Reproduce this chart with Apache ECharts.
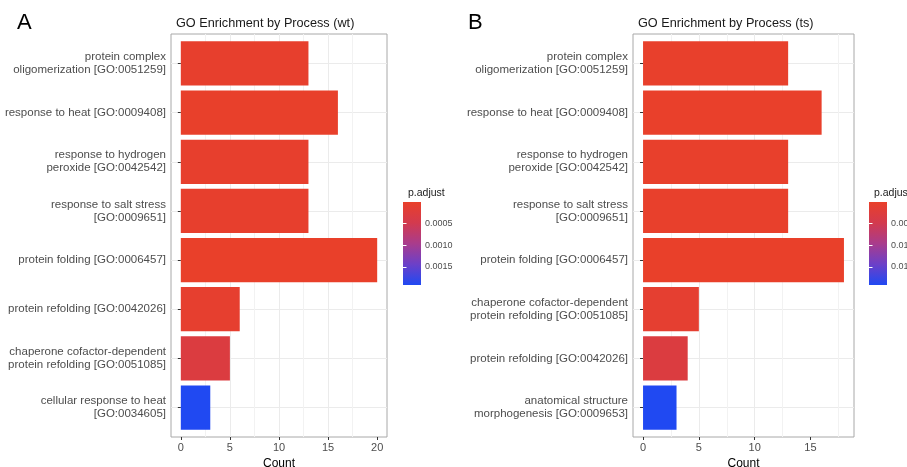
<!DOCTYPE html>
<html>
<head>
<meta charset="utf-8">
<title>GO Enrichment by Process</title>
<script src="https://cdn.jsdelivr.net/npm/echarts@6/dist/echarts.min.js"></script>
<style>
  html, body { margin: 0; padding: 0; background: #ffffff; }
  #chart { width: 907px; height: 467px; }
</style>
</head>
<body>
<div id="chart"></div>
<script>
// ---- Panel A: wild type ----
const wtTerms = [
  'protein complex\noligomerization [GO:0051259]',
  'response to heat [GO:0009408]',
  'response to hydrogen\nperoxide [GO:0042542]',
  'response to salt stress\n[GO:0009651]',
  'protein folding [GO:0006457]',
  'protein refolding [GO:0042026]',
  'chaperone cofactor-dependent\nprotein refolding [GO:0051085]',
  'cellular response to heat\n[GO:0034605]'
];
const wtCounts = [13, 16, 13, 13, 20, 6, 5, 3];
const wtPadj = [4.2e-5, 1.3e-5, 4.2e-5, 4.2e-5, 2.0e-6, 6.8e-5, 3.0e-4, 1.92e-3];
const wtCountTicks = [0, 5, 10, 15, 20];
const wtPadjTicks = [0.0005, 0.0010, 0.0015];

// ---- Panel B: ts mutant ----
const tsTerms = [
  'protein complex\noligomerization [GO:0051259]',
  'response to heat [GO:0009408]',
  'response to hydrogen\nperoxide [GO:0042542]',
  'response to salt stress\n[GO:0009651]',
  'protein folding [GO:0006457]',
  'chaperone cofactor-dependent\nprotein refolding [GO:0051085]',
  'protein refolding [GO:0042026]',
  'anatomical structure\nmorphogenesis [GO:0009653]'
];
const tsCounts = [13, 16, 13, 13, 18, 5, 4, 3];
const tsPadj = [3.1e-4, 1.2e-4, 3.1e-4, 3.1e-4, 2.0e-5, 9.0e-4, 3.0e-3, 1.92e-2];
const tsCountTicks = [0, 5, 10, 15];
const tsPadjTicks = [0.005, 0.010, 0.015];

// low p.adjust = red, high p.adjust = blue
const fillStops = ['#e9402a', '#d33a4e', '#a93c8c', '#6c40c8', '#2049f2'];

const FONT = '"Liberation Sans", Arial, Helvetica, sans-serif';
const AXIS_TEXT = '#4d4d4d';
const GRID_COL = '#ebebeb';

const panels = [
  { terms: wtTerms, counts: wtCounts, padj: wtPadj, countTicks: wtCountTicks, padjTicks: wtPadjTicks,
    digits: 4, letter: 'A', title: 'GO Enrichment by Process (wt)',
    plotLeft: 171, plotWidth: 216, legendLeft: 403, letterLeft: 12 },
  { terms: tsTerms, counts: tsCounts, padj: tsPadj, countTicks: tsCountTicks, padjTicks: tsPadjTicks,
    digits: 3, letter: 'B', title: 'GO Enrichment by Process (ts)',
    plotLeft: 633, plotWidth: 221, legendLeft: 869, letterLeft: 463 }
];

const PLOT_TOP = 34, PLOT_H = 403;
const N = 8;
const unitH = PLOT_H / (N - 1 + 1.2);     // discrete axis padded by 0.6 band on each side
const innerTop = PLOT_TOP + 0.6 * unitH;
const innerH = (N - 1) * unitH;

const option = {
  backgroundColor: '#ffffff',
  animation: false,
  textStyle: { fontFamily: FONT },
  title: [],
  grid: [],
  xAxis: [],
  yAxis: [],
  series: [],
  visualMap: []
};

panels.forEach((p, i) => {
  const maxCount = Math.max(...p.counts);
  const pad = maxCount * 0.05;
  const xMin = -pad, xMax = maxCount + pad;
  const pMin = Math.min(...p.padj), pMax = Math.max(...p.padj);
  const g0 = i * 3;

  option.title.push(
    { text: p.letter, left: p.letterLeft, top: 7,
      textStyle: { fontFamily: FONT, fontSize: 22, fontWeight: 'normal', color: '#000' } },
    { text: p.title, left: p.plotLeft, top: 12,
      textStyle: { fontFamily: FONT, fontSize: 12.7, fontWeight: 'normal', color: '#1a1a1a' } },
    { text: 'p.adjust', left: p.legendLeft, top: 183,
      textStyle: { fontFamily: FONT, fontSize: 10.5, fontWeight: 'normal', color: '#1a1a1a' } }
  );

  // outer panel: border, vertical grid and count axis
  option.grid.push({
    left: p.plotLeft, top: PLOT_TOP, width: p.plotWidth, height: PLOT_H,
    show: true, borderColor: '#a8a8a8', borderWidth: 1, backgroundColor: 'transparent',
    containLabel: false, outerBoundsMode: 'none'
  });
  // inner panel: bars and category axis
  option.grid.push({
    left: p.plotLeft, top: innerTop, width: p.plotWidth, height: innerH,
    containLabel: false, outerBoundsMode: 'none'
  });
  // colour bar
  option.grid.push({
    left: p.legendLeft, top: 202, width: 18, height: 83,
    show: true, borderWidth: 0,
    backgroundColor: {
      type: 'linear', x: 0, y: 0, x2: 0, y2: 1,
      colorStops: fillStops.map((c, k) => ({ offset: k / (fillStops.length - 1), color: c }))
    },
    containLabel: false, outerBoundsMode: 'none'
  });

  option.xAxis.push(
    {
      type: 'value', gridIndex: g0, min: xMin, max: xMax, splitNumber: 4,
      axisLine: { show: false },
      axisTick: { show: true, length: 3, customValues: p.countTicks, lineStyle: { color: '#333', width: 1 } },
      axisLabel: { customValues: p.countTicks, color: AXIS_TEXT, fontSize: 11, margin: 5, fontFamily: FONT },
      splitLine: { show: true, showMinLine: false, showMaxLine: false, lineStyle: { color: GRID_COL, width: 1 } },
      minorTick: { show: false, splitNumber: 2 },
      minorSplitLine: { show: true, lineStyle: { color: '#f2f2f2', width: 1 } },
      name: 'Count', nameLocation: 'middle', nameGap: 18,
      nameTextStyle: { color: '#000', fontSize: 12, fontFamily: FONT }
    },
    { type: 'value', gridIndex: g0 + 1, min: xMin, max: xMax, show: false },
    { type: 'value', gridIndex: g0 + 2, show: false }
  );

  option.yAxis.push(
    { type: 'value', gridIndex: g0, show: false },
    {
      type: 'category', gridIndex: g0 + 1, data: p.terms, inverse: true, boundaryGap: false,
      axisLine: { show: false },
      axisTick: { show: true, length: 3, lineStyle: { color: '#333', width: 1 } },
      axisLabel: { color: AXIS_TEXT, fontSize: 11.5, lineHeight: 13, margin: 5, fontFamily: FONT, interval: 0 },
      splitLine: { show: true, lineStyle: { color: GRID_COL, width: 1 } }
    },
    {
      type: 'value', gridIndex: g0 + 2, position: 'right', min: pMin, max: pMax, inverse: true,
      axisLine: { show: false },
      axisTick: { show: true, inside: true, length: 3.5, customValues: p.padjTicks,
                  lineStyle: { color: '#ffffff', width: 1 } },
      axisLabel: { customValues: p.padjTicks, formatter: v => v.toFixed(p.digits),
                   color: AXIS_TEXT, fontSize: 9, margin: 4, fontFamily: FONT },
      splitLine: { show: false }
    },
    {
      type: 'value', gridIndex: g0 + 2, position: 'left', min: pMin, max: pMax, inverse: true,
      axisLine: { show: false },
      axisTick: { show: true, inside: true, length: 3.5, customValues: p.padjTicks,
                  lineStyle: { color: '#ffffff', width: 1 } },
      axisLabel: { show: false },
      splitLine: { show: false }
    }
  );

  option.series.push({
    type: 'bar',
    xAxisIndex: i * 3 + 1,
    yAxisIndex: i * 4 + 1,
    barCategoryGap: '10%',
    clip: false,
    encode: { x: 0, y: 1 },
    data: p.terms.map((t, k) => [p.counts[k], t, p.padj[k]])
  });

  option.visualMap.push({
    type: 'continuous', show: false, seriesIndex: i, dimension: 2,
    min: pMin, max: pMax,
    inRange: { color: fillStops }
  });
});

const chart = echarts.init(document.getElementById('chart'), null, { renderer: 'canvas' });
chart.setOption(option);
</script>
</body>
</html>
